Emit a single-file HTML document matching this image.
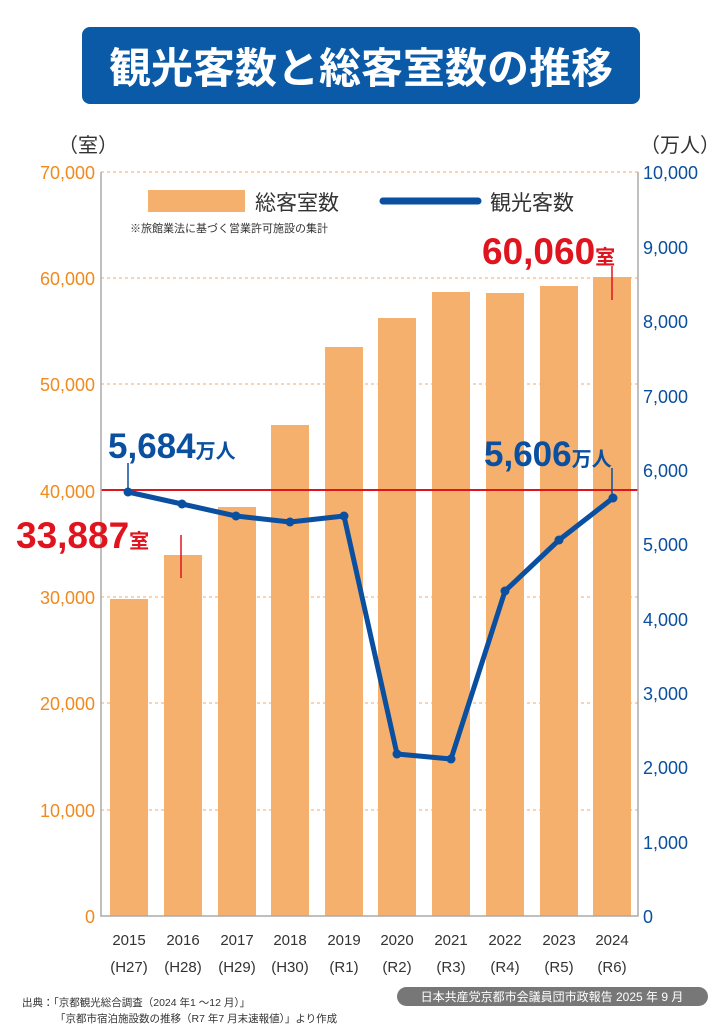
<!DOCTYPE html>
<html><head><meta charset="utf-8"><style>
body{margin:0;background:#fff;width:723px;height:1024px;overflow:hidden}
svg text{font-family:"Liberation Sans","Noto Sans CJK JP",sans-serif}
</style></head><body>
<svg width="723" height="1024" viewBox="0 0 723 1024" xmlns="http://www.w3.org/2000/svg">
<rect x="82" y="27" width="558" height="77" rx="8" fill="#0a5aa8"/>
<text x="361" y="83" text-anchor="middle" font-size="42" font-weight="bold" fill="#fff" style="font-family:'Noto Sans CJK JP',sans-serif">観光客数と総客室数の推移</text>
<text x="58" y="152" font-size="20" fill="#333">（室）</text>
<text x="640" y="152" font-size="20" fill="#333">（万人）</text>
<g stroke="#f4a860" stroke-dasharray="3,3" stroke-width="1">
<line x1="101" y1="172" x2="638" y2="172"/><line x1="101" y1="278" x2="638" y2="278"/><line x1="101" y1="384" x2="638" y2="384"/><line x1="101" y1="597" x2="638" y2="597"/><line x1="101" y1="703" x2="638" y2="703"/><line x1="101" y1="810" x2="638" y2="810"/>
</g>
<g fill="#f5b06d">
<rect x="110" y="599" width="38" height="317"/><rect x="164" y="555" width="38" height="361"/><rect x="218" y="507" width="38" height="409"/><rect x="271" y="425" width="38" height="491"/><rect x="325" y="347" width="38" height="569"/><rect x="378" y="318" width="38" height="598"/><rect x="432" y="292" width="38" height="624"/><rect x="486" y="293" width="38" height="623"/><rect x="540" y="286" width="38" height="630"/><rect x="593" y="277" width="38" height="639"/>
</g>
<line x1="101" y1="490" x2="638" y2="490" stroke="#e0141e" stroke-width="2"/>
<polyline points="101,172 101,916 638,916 638,172" fill="none" stroke="#aaa" stroke-width="1.5"/>
<g font-size="18" fill="#f08a1e" text-anchor="end">
<text x="95" y="179">70,000</text><text x="95" y="285">60,000</text><text x="95" y="391">50,000</text><text x="95" y="498">40,000</text><text x="95" y="604">30,000</text><text x="95" y="710">20,000</text><text x="95" y="817">10,000</text><text x="95" y="923">0</text>
</g>
<g font-size="18" fill="#0a4fa0">
<text x="643" y="179">10,000</text><text x="643" y="254">9,000</text><text x="643" y="328">8,000</text><text x="643" y="403">7,000</text><text x="643" y="477">6,000</text><text x="643" y="551">5,000</text><text x="643" y="626">4,000</text><text x="643" y="700">3,000</text><text x="643" y="774">2,000</text><text x="643" y="849">1,000</text><text x="643" y="923">0</text>
</g>
<rect x="148" y="190" width="97" height="22" fill="#f5b06d"/>
<text x="255" y="210" font-size="21" fill="#333">総客室数</text>
<line x1="383" y1="201" x2="478" y2="201" stroke="#0a4fa0" stroke-width="7" stroke-linecap="round"/>
<text x="490" y="210" font-size="21" fill="#333">観光客数</text>
<text x="130" y="232" font-size="11" fill="#333">※旅館業法に基づく営業許可施設の集計</text>
<line x1="181" y1="535" x2="181" y2="578" stroke="#e0141e" stroke-width="1.5"/>
<line x1="612" y1="266" x2="612" y2="300" stroke="#e0141e" stroke-width="1.5"/>
<line x1="128" y1="463" x2="128" y2="492" stroke="#0a4fa0" stroke-width="1.5"/>
<line x1="612" y1="468" x2="612" y2="498" stroke="#0a4fa0" stroke-width="1.5"/>
<polyline points="128,492 182,504 236,516 290,522 344,516 397,754 451,759 505,591 559,540 613,498" fill="none" stroke="#0a4fa0" stroke-width="5" stroke-linejoin="round"/>
<g fill="#0a4fa0">
<circle cx="128" cy="492" r="4.5"/><circle cx="182" cy="504" r="4.5"/><circle cx="236" cy="516" r="4.5"/><circle cx="290" cy="522" r="4.5"/><circle cx="344" cy="516" r="4.5"/><circle cx="397" cy="754" r="4.5"/><circle cx="451" cy="759" r="4.5"/><circle cx="505" cy="591" r="4.5"/><circle cx="559" cy="540" r="4.5"/><circle cx="613" cy="498" r="4.5"/>
</g>
<text x="482" y="264" font-size="37" font-weight="bold" fill="#e0141e">60,060<tspan font-size="20">室</tspan></text>
<text x="16" y="548" font-size="37" font-weight="bold" fill="#e0141e">33,887<tspan font-size="20">室</tspan></text>
<text x="108" y="458" font-size="35" font-weight="bold" fill="#0a4fa0">5,684<tspan font-size="20">万人</tspan></text>
<text x="484" y="466" font-size="35" font-weight="bold" fill="#0a4fa0">5,606<tspan font-size="20">万人</tspan></text>
<g font-size="15" fill="#333" text-anchor="middle">
<text x="129" y="945">2015</text><text x="183" y="945">2016</text><text x="237" y="945">2017</text><text x="290" y="945">2018</text><text x="344" y="945">2019</text><text x="397" y="945">2020</text><text x="451" y="945">2021</text><text x="505" y="945">2022</text><text x="559" y="945">2023</text><text x="612" y="945">2024</text>
<text x="129" y="972">(H27)</text><text x="183" y="972">(H28)</text><text x="237" y="972">(H29)</text><text x="290" y="972">(H30)</text><text x="344" y="972">(R1)</text><text x="397" y="972">(R2)</text><text x="451" y="972">(R3)</text><text x="505" y="972">(R4)</text><text x="559" y="972">(R5)</text><text x="612" y="972">(R6)</text>
</g>
<text x="22" y="1006" font-size="10.5" fill="#333">出典：「京都観光総合調査（2024 年1 ～12 月）」</text>
<text x="55" y="1022" font-size="10.5" fill="#333">「京都市宿泊施設数の推移（R7 年7 月末速報値）」より作成</text>
<rect x="397" y="987" width="311" height="19" rx="9.5" fill="#777"/>
<text x="552" y="1001" font-size="12" fill="#fff" text-anchor="middle">日本共産党京都市会議員団市政報告 2025 年 9 月</text>
</svg>
</body></html>
